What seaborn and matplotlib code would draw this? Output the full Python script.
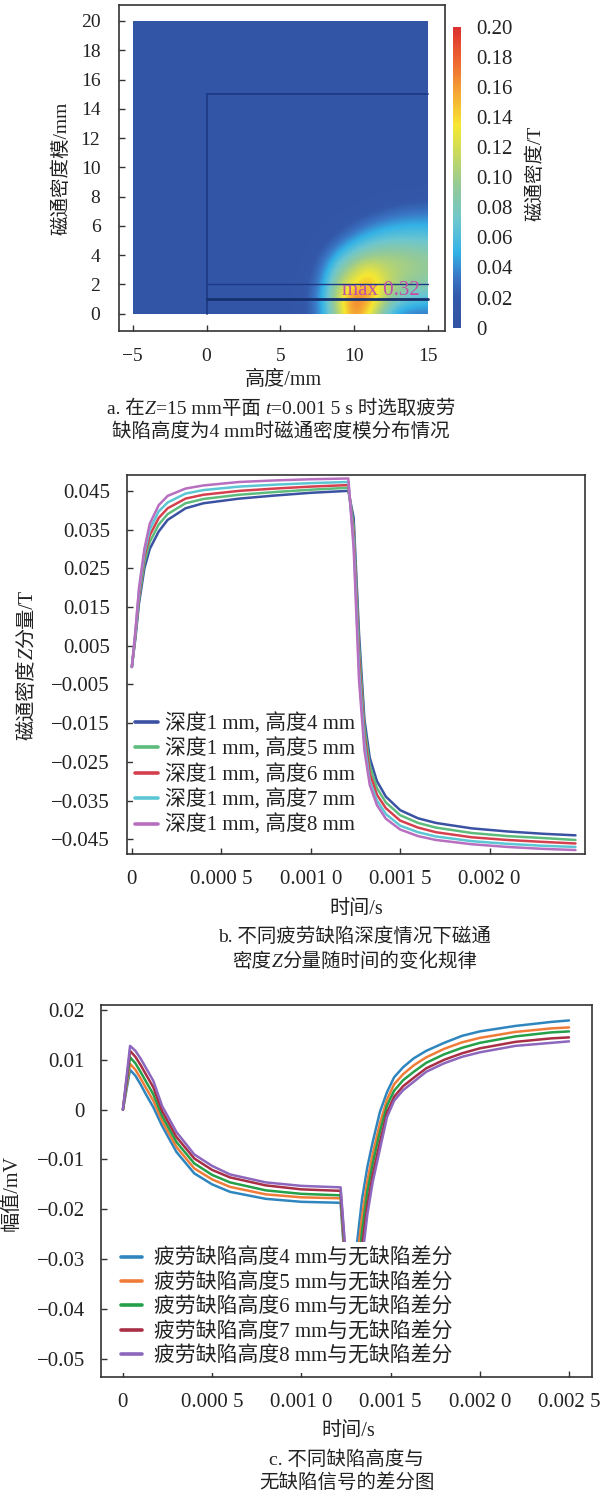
import numpy as np
import pandas as pd
import matplotlib
matplotlib.use('Agg')
import matplotlib.pyplot as plt
import seaborn as sns
from matplotlib.colors import LinearSegmentedColormap
from matplotlib.patches import Rectangle

# ---------------- 数据 ----------------
# a. 磁通密度模分布 (T), 背景值 + 热点区域网格
bg_level = 0.008
grid_x = [-5, -4, -3, -2, -1, 0, 1, 2, 3, 4, 5, 6, 7, 8, 9, 10, 11, 12, 13, 14, 15]
grid_y = [0, 1, 2, 3, 4, 5, 6, 7, 8, 9, 10, 11, 12, 13, 14, 15, 16, 17, 18, 19, 20]
hot_x = [6, 7, 8, 9, 10, 11, 12, 13, 14, 15]
hot_y = [0, 1, 2, 3, 4, 5, 6, 7, 8]
hot_B = [
    [0.010, 0.022, 0.050, 0.110, 0.170, 0.130, 0.075, 0.040, 0.032, 0.032],
    [0.010, 0.024, 0.055, 0.125, 0.180, 0.160, 0.110, 0.075, 0.065, 0.060],
    [0.009, 0.020, 0.050, 0.110, 0.135, 0.155, 0.125, 0.100, 0.090, 0.085],
    [0.008, 0.016, 0.040, 0.085, 0.115, 0.135, 0.115, 0.105, 0.100, 0.095],
    [0.008, 0.011, 0.028, 0.055, 0.080, 0.095, 0.100, 0.100, 0.095, 0.090],
    [0.008, 0.009, 0.014, 0.030, 0.048, 0.062, 0.070, 0.072, 0.072, 0.070],
    [0.008, 0.008, 0.009, 0.014, 0.024, 0.036, 0.045, 0.050, 0.052, 0.052],
    [0.008, 0.008, 0.008, 0.009, 0.011, 0.016, 0.022, 0.028, 0.031, 0.032],
    [0.008, 0.008, 0.008, 0.008, 0.008, 0.009, 0.010, 0.012, 0.014, 0.015],
]
# 模型边界线 (mm)
layer_y = [1, 2]
block_top = 15
block_left = 0
max_label = 'max 0.32'
max_pos = (9.16, 1.62)
cbar_ticks = [0, 0.02, 0.04, 0.06, 0.08, 0.10, 0.12, 0.14, 0.16, 0.18, 0.20]
cbar_labels = ['0', '0.02', '0.04', '0.06', '0.08', '0.10', '0.12', '0.14', '0.16', '0.18', '0.20']

# b. 磁通密度Z分量 (T)
t_b = [0, 0.00002, 0.00004, 0.00007, 0.0001, 0.00015, 0.0002, 0.0003, 0.0004, 0.0006,
       0.0008, 0.001, 0.00121, 0.00124, 0.00127, 0.0013, 0.00133, 0.00137, 0.00142, 0.0015,
       0.0016, 0.0017, 0.0019, 0.0021, 0.0023, 0.00248]
bz_h4 = [-0.0005, 0.007, 0.016, 0.025, 0.030, 0.0345, 0.0375, 0.0405, 0.0418, 0.0430,
         0.0438, 0.0445, 0.0450, 0.038, 0.008, -0.014, -0.024, -0.030, -0.0340, -0.0375,
         -0.0396, -0.0408, -0.0422, -0.0430, -0.0436, -0.0440]
bz_h5 = [-0.0005, 0.0075, 0.017, 0.0265, 0.0318, 0.0363, 0.039, 0.0418, 0.0429, 0.0440,
         0.0447, 0.0453, 0.0458, 0.036, 0.005, -0.016, -0.026, -0.0318, -0.0355, -0.0388,
         -0.0408, -0.0420, -0.0434, -0.0442, -0.0447, -0.0452]
bz_h6 = [-0.0005, 0.008, 0.018, 0.028, 0.0335, 0.038, 0.0405, 0.0430, 0.0440, 0.0450,
         0.0456, 0.0461, 0.0465, 0.034, 0.002, -0.018, -0.028, -0.0335, -0.0370, -0.0402,
         -0.0420, -0.0432, -0.0445, -0.0452, -0.0457, -0.0461]
bz_h7 = [-0.0005, 0.0085, 0.019, 0.029, 0.035, 0.0397, 0.042, 0.0443, 0.0452, 0.0461,
         0.0466, 0.0470, 0.0473, 0.032, -0.001, -0.020, -0.030, -0.035, -0.0385, -0.0415,
         -0.0432, -0.0443, -0.0455, -0.0462, -0.0467, -0.0470]
bz_h8 = [-0.0005, 0.009, 0.020, 0.030, 0.0365, 0.0413, 0.0437, 0.0456, 0.0464, 0.0473,
         0.0477, 0.0480, 0.0482, 0.030, -0.004, -0.022, -0.031, -0.0362, -0.0397, -0.0425,
         -0.0442, -0.0452, -0.0463, -0.0470, -0.0475, -0.0478]
names_b = ['深度1 mm, 高度4 mm', '深度1 mm, 高度5 mm', '深度1 mm, 高度6 mm',
           '深度1 mm, 高度7 mm', '深度1 mm, 高度8 mm']
colors_b = ['#3b52a3', '#5dbb7c', '#d6404e', '#5cc6d4', '#b86fc0']
yticks_b = [0.045, 0.035, 0.025, 0.015, 0.005, -0.005, -0.015, -0.025, -0.035, -0.045]
ylabels_b = ['0.045', '0.035', '0.025', '0.015', '0.005', '−0.005', '−0.015', '−0.025',
             '−0.035', '−0.045']
xticks_b = [0, 0.0005, 0.001, 0.0015, 0.002]
xlabels_b = ['0', '0.000 5', '0.001 0', '0.001 5', '0.002 0']

# c. 差分信号 (mV)
t_c = [0, 0.00004, 0.00007, 0.0001, 0.00013, 0.00017, 0.00022, 0.0003, 0.0004, 0.0005,
       0.0006, 0.0008, 0.001, 0.00122, 0.00124, 0.00128, 0.00131, 0.00134, 0.00137, 0.0014,
       0.00144, 0.00148, 0.00152, 0.00157, 0.00163, 0.0017, 0.0018, 0.0019, 0.002, 0.0022,
       0.0024, 0.0025]
diff_h4 = [0, 0.0080, 0.0068, 0.0050, 0.0030, 0.0005, -0.0033, -0.0085, -0.0128, -0.0150,
           -0.0165, -0.0179, -0.0185, -0.0187, -0.029, -0.046, -0.0274, -0.018, -0.0115, -0.0065,
           -0.0005, 0.0035, 0.0065, 0.0085, 0.0103, 0.0118, 0.0134, 0.0148, 0.0157, 0.0168,
           0.0176, 0.0179]
diff_h5 = [0, 0.0092, 0.0080, 0.0062, 0.0043, 0.0018, -0.0023, -0.0075, -0.0118, -0.0140,
           -0.0155, -0.0170, -0.0176, -0.0178, -0.028, -0.046, -0.031, -0.0215, -0.0143, -0.0089,
           -0.0028, 0.0020, 0.0051, 0.0071, 0.0089, 0.0105, 0.0122, 0.0135, 0.0144, 0.0156,
           0.0163, 0.0165]
diff_h6 = [0, 0.0105, 0.0093, 0.0075, 0.0056, 0.0031, -0.0013, -0.0065, -0.0108, -0.0131,
           -0.0146, -0.0162, -0.0169, -0.0172, -0.027, -0.046, -0.034, -0.0245, -0.0165, -0.0108,
           -0.0045, 0.0008, 0.0038, 0.0059, 0.0076, 0.0094, 0.0111, 0.0124, 0.0134, 0.0147,
           0.0155, 0.0157]
diff_h7 = [0, 0.0118, 0.0106, 0.0089, 0.0070, 0.0045, -0.0003, -0.0055, -0.0098, -0.0121,
           -0.0136, -0.0152, -0.0160, -0.0163, -0.026, -0.046, -0.037, -0.0275, -0.0192, -0.0130,
           -0.0066, -0.0006, 0.0026, 0.0047, 0.0064, 0.0083, 0.0100, 0.0113, 0.0123, 0.0136,
           0.0143, 0.0145]
diff_h8 = [0, 0.0128, 0.0118, 0.0102, 0.0083, 0.0058, 0.0007, -0.0045, -0.0090, -0.0113,
           -0.0130, -0.0146, -0.0153, -0.0156, -0.025, -0.046, -0.040, -0.030, -0.021, -0.0145,
           -0.008, -0.0015, 0.0018, 0.0039, 0.0056, 0.0076, 0.0093, 0.0106, 0.0115, 0.0128,
           0.0134, 0.0137]
names_c = ['疲劳缺陷高度4 mm与无缺陷差分', '疲劳缺陷高度5 mm与无缺陷差分', '疲劳缺陷高度6 mm与无缺陷差分',
           '疲劳缺陷高度7 mm与无缺陷差分', '疲劳缺陷高度8 mm与无缺陷差分']
colors_c = ['#2f86bf', '#f07c3a', '#24a04a', '#a82f45', '#8c67bd']
yticks_c = [0.02, 0.01, 0, -0.01, -0.02, -0.03, -0.04, -0.05]
ylabels_c = ['0.02', '0.01', '0', '−0.01', '−0.02', '−0.03', '−0.04', '−0.05']
xticks_c = [0, 0.0005, 0.001, 0.0015, 0.002, 0.0025]
xlabels_c = ['0', '0.000 5', '0.001 0', '0.001 5', '0.002 0', '0.002 5']

# ---------------- 样式 ----------------
sns.set_theme(style='ticks')
plt.rcParams['font.family'] = ['Liberation Serif', 'Noto Sans CJK SC']
TXT = '#222222'
SPINE = '#333333'

W, H = 600, 1497
fig = plt.figure(figsize=(W / 100, H / 100), dpi=100)
renderer = fig.canvas.get_renderer()


def add_ax(l, t, r, b):
    return fig.add_axes([l / W, 1 - b / H, (r - l) / W, (b - t) / H])


def px_text(x, y, s, **kw):
    fig.text(x / W, 1 - y / H, s, color=TXT, ha='center', va='center', **kw)


def rich_text(xc, yc, parts, size, vertical=False):
    # 分段文字 (斜体字母 + 中文), 整体居中于 (xc, yc) 像素
    em = size * 100 / 72
    items = []
    for s, italic, gap in parts:
        t = fig.text(0, 0, s, fontsize=size, color=TXT,
                     fontstyle='italic' if italic else 'normal',
                     rotation=90 if vertical else 0, rotation_mode='anchor',
                     ha='left', va='baseline')
        bb = t.get_window_extent(renderer)
        items.append((t, bb.height if vertical else bb.width, gap))
    total = sum(e + g for _, e, g in items) - items[-1][2]
    if vertical:
        pos = (H - yc) - total / 2
        for t, e, g in items:
            t.set_position(((xc + 0.38 * em) / W, pos / H))
            pos += e + g
    else:
        pos = xc - total / 2
        for t, e, g in items:
            t.set_position((pos / W, 1 - (yc + 0.38 * em) / H))
            pos += e + g


def style_ax(ax, xpad, ypad, size):
    for sp in ax.spines.values():
        sp.set_color(SPINE)
        sp.set_linewidth(1.2)
    ax.tick_params(direction='in', length=4, width=1, colors=SPINE, labelcolor=TXT,
                   labelsize=size)
    ax.tick_params(axis='x', pad=xpad)
    ax.tick_params(axis='y', pad=ypad)
    ax.set_xlabel('')
    ax.set_ylabel('')


# ---------------- a. 磁通密度模分布 ----------------
field = np.full((len(grid_y), len(grid_x)), bg_level)
for i, yy in enumerate(hot_y):
    for j, xx in enumerate(hot_x):
        field[grid_y.index(yy), grid_x.index(xx)] = hot_B[i][j]

cmap = LinearSegmentedColormap.from_list('field', [
    (0.00, '#3353a4'), (0.10, '#3459aa'), (0.17, '#3a78c6'), (0.25, '#33b2e6'),
    (0.35, '#6cc6d0'), (0.47, '#94ca98'), (0.57, '#c4d862'), (0.67, '#f6e832'),
    (0.78, '#f5a834'), (0.88, '#ee6a30'), (1.00, '#dc2f2f')])

ax_a = add_ax(119.2, 5, 445, 331)
im = ax_a.imshow(field, origin='lower', cmap=cmap, vmin=0, vmax=0.2,
                 extent=[grid_x[0] - 0.5, grid_x[-1] + 0.5, grid_y[0] - 0.5, grid_y[-1] + 0.5],
                 interpolation='bicubic', interpolation_stage='data', aspect='auto')
clip = Rectangle((grid_x[0], grid_y[0]), grid_x[-1] - grid_x[0], grid_y[-1] - grid_y[0],
                 transform=ax_a.transData, facecolor='none', edgecolor='none')
ax_a.add_patch(clip)
im.set_clip_path(clip)

line_c = '#1e3a85'
ax_a.plot([block_left, grid_x[-1]], [block_top, block_top], color=line_c, lw=1.3)
ax_a.plot([block_left, block_left], [grid_y[0], block_top], color=line_c, lw=1.3)
ax_a.plot([block_left, grid_x[-1]], [layer_y[0], layer_y[0]], color='#15306e', lw=2.0)
ax_a.plot([block_left, grid_x[-1]], [layer_y[1], layer_y[1]], color=line_c, lw=1.0)
ax_a.text(max_pos[0], max_pos[1], max_label, color='#c050a8', fontsize=15,
          ha='left', va='center')

ax_a.set_xlim(-5.92, 16.17)
ax_a.set_ylim(-1.18, 21.09)
ax_a.set_xticks([-5, 0, 5, 10, 15])
ax_a.set_xticklabels(['−5', '0', '5', '10', '15'])
ax_a.set_yticks(list(range(0, 21, 2)))
ax_a.set_yticklabels([str(v) for v in range(0, 21, 2)])
style_ax(ax_a, 12, 13.5, 14)

cax = add_ax(452.7, 26.7, 461, 327.7)
cb = fig.colorbar(im, cax=cax)
cb.outline.set_visible(False)
cb.set_ticks(cbar_ticks)
cb.set_ticklabels(cbar_labels)
cax.tick_params(length=0, pad=11, labelsize=15, labelcolor=TXT)

px_text(535, 173, '磁通密度/T', fontsize=14, rotation=90)
px_text(61.5, 168, '磁通密度模/mm', fontsize=14, rotation=90)
px_text(283, 380, '高度/mm', fontsize=14.5)
rich_text(281, 407, [('a. 在', False, 0), ('Z', True, 0), ('=15 mm平面', False, 4.9),
                     ('t', True, 0), ('=0.001 5 s 时选取疲劳', False, 0)], 14)
px_text(281, 432, '缺陷高度为4 mm时磁通密度模分布情况', fontsize=14)

# ---------------- b. 磁通密度Z分量 ----------------
df_b = pd.DataFrame({
    't': t_b * 5,
    'B': bz_h4 + bz_h5 + bz_h6 + bz_h7 + bz_h8,
    'name': sum([[n] * len(t_b) for n in names_b], []),
})
ax_b = add_ax(126.5, 475, 584.6, 854.3)
sns.lineplot(data=df_b, x='t', y='B', hue='name', hue_order=names_b, palette=colors_b,
             linewidth=1.8, errorbar=None, ax=ax_b)
ax_b.set_xlim(-0.00003, 0.002531)
ax_b.set_ylim(-0.0489, 0.0491)
ax_b.set_xticks(xticks_b)
ax_b.set_xticklabels(xlabels_b)
ax_b.set_yticks(yticks_b)
ax_b.set_yticklabels(ylabels_b)
style_ax(ax_b, 11.5, 12, 15)
h, l = ax_b.get_legend_handles_labels()
leg = ax_b.legend(h, l, loc='center left', bbox_to_anchor=(0.0142, 0.2104), frameon=True,
                  facecolor='white', edgecolor='none', framealpha=1, borderpad=0.1,
                  borderaxespad=0, handlelength=1.1, handletextpad=0.35, labelspacing=0.2,
                  fontsize=15)
for ln in leg.get_lines():
    ln.set_linewidth(2.6)
for tx in leg.get_texts():
    tx.set_color(TXT)

rich_text(25, 665, [('磁通密度', False, 0), ('Z', True, 0), ('分量/T', False, 0)], 14.5,
          vertical=True)
px_text(356, 910, '时间/s', fontsize=14.5)
px_text(355, 937, 'b. 不同疲劳缺陷深度情况下磁通', fontsize=14)
rich_text(355, 960, [('密度', False, 0), ('Z', True, 0), ('分量随时间的变化规律', False, 0)], 14)

# ---------------- c. 差分信号 ----------------
df_c = pd.DataFrame({
    't': t_c * 5,
    'U': diff_h4 + diff_h5 + diff_h6 + diff_h7 + diff_h8,
    'name': sum([[n] * len(t_c) for n in names_c], []),
})
ax_c = add_ax(100.8, 1005, 592, 1376.7)
sns.lineplot(data=df_c, x='t', y='U', hue='name', hue_order=names_c, palette=colors_c,
             linewidth=1.8, errorbar=None, ax=ax_c)
ax_c.set_xlim(-0.000124, 0.002629)
ax_c.set_ylim(-0.0536, 0.0210)
ax_c.set_xticks(xticks_c)
ax_c.set_xticklabels(xlabels_c)
ax_c.set_yticks(yticks_c)
ax_c.set_yticklabels(ylabels_c)
style_ax(ax_c, 12, 11.5, 15)
h, l = ax_c.get_legend_handles_labels()
leg = ax_c.legend(h, l, loc='center left', bbox_to_anchor=(0.0289, 0.186), frameon=True,
                  facecolor='white', edgecolor='none', framealpha=1, borderpad=0.3,
                  borderaxespad=0, handlelength=1.0, handletextpad=0.55, labelspacing=0.2,
                  fontsize=15)
for ln in leg.get_lines():
    ln.set_linewidth(2.6)
for tx in leg.get_texts():
    tx.set_color(TXT)

px_text(12.5, 1193, '幅值/mV', fontsize=14.5, rotation=90)
px_text(348, 1432, '时间/s', fontsize=14.5)
px_text(346, 1460, 'c. 不同缺陷高度与', fontsize=14)
px_text(347, 1483, '无缺陷信号的差分图', fontsize=14)

fig.savefig('out.png', dpi=100, facecolor='white')
